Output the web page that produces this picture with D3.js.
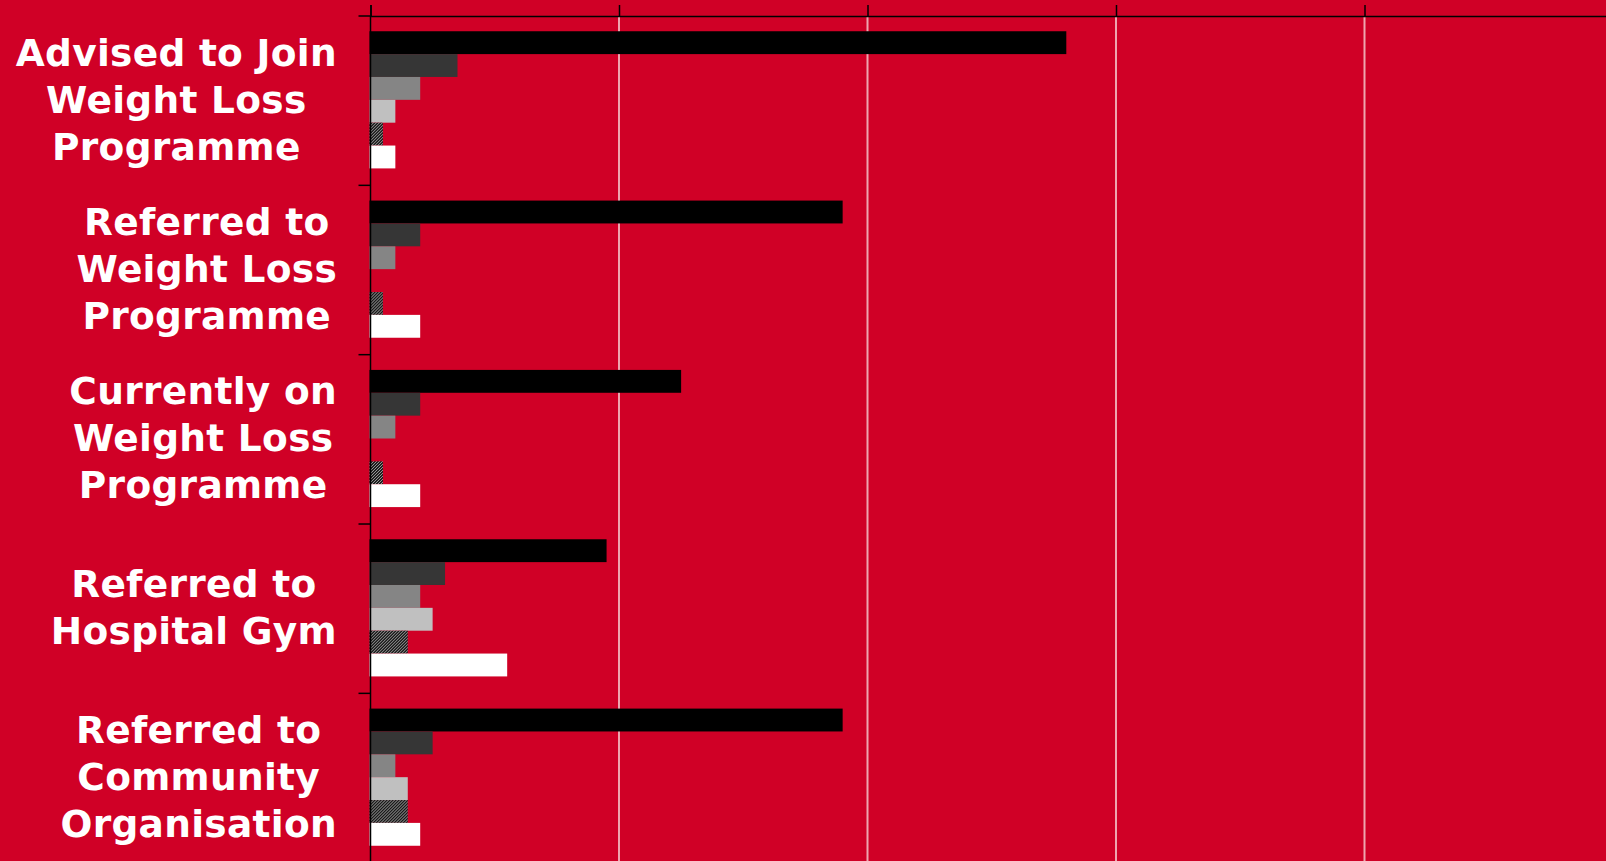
<!DOCTYPE html>
<html>
<head>
<meta charset="utf-8">
<script src="https://cdn.jsdelivr.net/npm/d3@7/dist/d3.min.js"></script>
<style>
  html, body { margin: 0; padding: 0; background: #d00026; overflow: hidden; }
  svg { display: block; }
  .cat-label { font-family: "DejaVu Sans", Verdana, sans-serif; font-weight: bold; font-size: 37.5px; letter-spacing: 0.3px; fill: #ffffff; }
</style>
</head>
<body>
<svg id="chart" width="1606" height="861"></svg>
<script>
// Categories (one label line per array entry)
const categories = [
  ["Advised to Join", "Weight Loss", "Programme"],
  ["Referred to", "Weight Loss", "Programme"],
  ["Currently on", "Weight Loss", "Programme"],
  ["Referred to", "Hospital Gym"],
  ["Referred to", "Community", "Organisation"]
];
const seriesNames = ["Series 1", "Series 2", "Series 3", "Series 4", "Series 5", "Series 6"];

// Values per series, in category order
const series1 = [56, 38, 25, 19, 38];
const series2 = [7, 4, 4, 6, 5];
const series3 = [4, 2, 2, 4, 2];
const series4 = [2, 0, 0, 5, 3];
const series5 = [1, 1, 1, 3, 3];
const series6 = [2, 4, 4, 11, 4];
const seriesValues = [series1, series2, series3, series4, series5, series6];

const xTicks = [0, 20, 40, 60, 80, 100];

const svg = d3.select("#chart");
const W = 1606, H = 861;
const margin = { top: 16, left: 370.5, right: -7, bottom: 0 };

svg.append("rect").attr("width", W).attr("height", H).attr("fill", "#d00026");

// Hatched fill for the fifth series
const defs = svg.append("defs");
const pat = defs.append("pattern")
  .attr("id", "hatch")
  .attr("patternUnits", "userSpaceOnUse")
  .attr("width", 3).attr("height", 3);
pat.append("rect").attr("width", 3).attr("height", 3).attr("fill", "#1a1a1a");
pat.append("path").attr("d", "M0,3 L3,0 M-1,1 L1,-1 M2,4 L4,2")
  .attr("stroke", "#a0a0a0").attr("stroke-width", 1);

const fills = ["#000000", "#363636", "#858585", "#c0c0c0", "url(#hatch)", "#ffffff"];

const x = d3.scaleLinear().domain([0, 100]).range([margin.left, W - margin.right]);
const y0 = d3.scaleBand()
  .domain(d3.range(categories.length))
  .range([margin.top, H - margin.bottom])
  .paddingInner(0.19).paddingOuter(0.09);
const y1 = d3.scaleBand().domain(d3.range(seriesNames.length)).range([0, y0.bandwidth()]);
const step = y0.step();

// Vertical gridlines
svg.append("g").selectAll("line")
  .data(xTicks.filter(d => d > 0))
  .join("line")
  .attr("x1", d => x(d)).attr("x2", d => x(d))
  .attr("y1", margin.top).attr("y2", H)
  .attr("stroke", "#eea5ae").attr("stroke-width", 2);

// Bars
const groups = svg.append("g").selectAll("g")
  .data(categories.map((c, i) => i))
  .join("g")
  .attr("transform", i => `translate(0,${y0(i)})`);

groups.selectAll("rect")
  .data(i => seriesValues.map((vals, s) => ({ s, v: vals[i] })))
  .join("rect")
  .attr("x", x(0) - 1)
  .attr("y", d => y1(d.s))
  .attr("height", y1.bandwidth())
  .attr("width", d => d.v > 0 ? x(d.v) - x(0) + 1 : 0)
  .attr("fill", d => fills[d.s]);

// Top axis (no tick labels)
const xAxis = d3.axisTop(x).tickValues(xTicks).tickSize(11).tickFormat("");
const gx = svg.append("g").attr("transform", `translate(0,${margin.top})`).call(xAxis);
gx.select(".domain").attr("stroke", "#000").attr("stroke-width", 1.5);
gx.selectAll(".tick line").attr("stroke", "#000").attr("stroke-width", 1.5);

// Left axis with ticks at category boundaries
const boundaries = d3.range(categories.length + 1).map(i => margin.top + i * step);
svg.append("line")
  .attr("x1", x(0)).attr("x2", x(0))
  .attr("y1", margin.top).attr("y2", H)
  .attr("stroke", "#000").attr("stroke-width", 1.5);
svg.append("g").selectAll("line")
  .data(boundaries)
  .join("line")
  .attr("x1", x(0) - 12).attr("x2", x(0))
  .attr("y1", d => d).attr("y2", d => d)
  .attr("stroke", "#000").attr("stroke-width", 1.5);

// Category labels: lines centred inside a block right-aligned beside the axis
const labelRight = 337;
const lineH = 47;
categories.forEach((lines, i) => {
  const cy = margin.top + (i + 0.5) * step + 12;
  const t = svg.append("text").attr("class", "cat-label").attr("text-anchor", "middle");
  const spans = lines.map((ln, k) => t.append("tspan")
    .attr("y", cy + (k - (lines.length - 1) / 2) * lineH)
    .text(ln));
  const maxW = d3.max(spans, s => s.node().getComputedTextLength());
  spans.forEach(s => s.attr("x", labelRight - maxW / 2));
});
</script>
</body>
</html>
